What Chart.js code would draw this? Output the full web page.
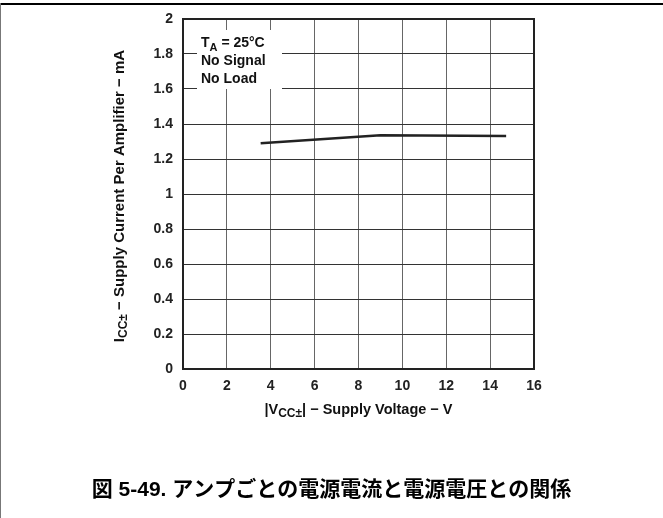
<!DOCTYPE html>
<html>
<head>
<meta charset="utf-8">
<script src="https://cdn.jsdelivr.net/npm/chart.js@4"></script>
<style>
  html, body { margin: 0; padding: 0; background: #fff; }
  #wrap { width: 663px; height: 518px; position: relative; }
</style>
</head>
<body>
<div id="wrap"><canvas id="chart" width="663" height="518"></canvas></div>
<script>
// values
const supplyVoltage = [3.54, 9.0, 14.73];
const supplyCurrent = [1.29, 1.335, 1.332];
const xTicks = ["0", "2", "4", "6", "8", "10", "12", "14", "16"];
const yTicks = ["0", "0.2", "0.4", "0.6", "0.8", "1", "1.2", "1.4", "1.6", "1.8", "2"];
// text between ~ is drawn as a subscript
const notes = ["T~A~ = 25°C", "No Signal", "No Load"];
const xTitle = "|V~CC±~| − Supply Voltage − V";
const yTitle = "I~CC±~ − Supply Current Per Amplifier − mA";
const caption = "図 5-49. アンプごとの電源電流と電源電圧との関係";

const FONT = "'Liberation Sans', Arial, 'Noto Sans CJK JP', sans-serif";

function richText(ctx, text, x, y, size, align) {
  const parts = text.split("~");
  const big = "bold " + size + "px " + FONT;
  const small = "bold " + Math.round(size * 0.82) + "px " + FONT;
  let w = 0;
  parts.forEach((p, i) => {
    ctx.font = i % 2 ? small : big;
    w += ctx.measureText(p).width;
  });
  let cx = align === "center" ? x - w / 2 : x;
  ctx.textAlign = "left";
  parts.forEach((p, i) => {
    ctx.font = i % 2 ? small : big;
    ctx.fillText(p, cx, i % 2 ? y + 4 : y);
    cx += ctx.measureText(p).width;
  });
}

const decor = {
  id: "decor",
  beforeDraw(c) {
    const ctx = c.ctx;
    ctx.save();
    ctx.fillStyle = "#fff";
    ctx.fillRect(0, 0, c.width, c.height);
    // page frame
    ctx.fillStyle = "#000";
    ctx.fillRect(0, 3, c.width, 2);
    ctx.fillStyle = "#777";
    ctx.fillRect(0, 3, 1, c.height);
    ctx.restore();
  },
  afterDatasetsDraw(c) {
    const ctx = c.ctx;
    const a = c.chartArea;
    ctx.save();
    // plot frame
    ctx.strokeStyle = "#222";
    ctx.lineWidth = 2;
    ctx.strokeRect(a.left, a.top, a.right - a.left, a.bottom - a.top);

    // condition box
    ctx.fillStyle = "#fff";
    ctx.fillRect(a.left + 14, a.top + 11, 85, 59);
    ctx.fillStyle = "#111";
    ctx.textBaseline = "alphabetic";
    notes.forEach((n, i) => richText(ctx, n, a.left + 18, a.top + 28 + i * 18, 14, "left"));

    // axis titles
    ctx.textBaseline = "middle";
    richText(ctx, xTitle, (a.left + a.right) / 2, 410, 14.5, "center");
    ctx.save();
    ctx.translate(120, (a.top + a.bottom) / 2 + 2);
    ctx.rotate(-Math.PI / 2);
    richText(ctx, yTitle, 0, 0, 15, "center");
    ctx.restore();

    // caption
    ctx.font = "bold 21px " + FONT;
    ctx.textAlign = "center";
    ctx.fillStyle = "#000";
    ctx.fillText(caption, c.width / 2, 490);
    ctx.restore();
  }
};

new Chart(document.getElementById("chart"), {
  type: "line",
  data: {
    datasets: [{
      data: supplyVoltage.map((v, i) => ({ x: v, y: supplyCurrent[i] })),
      borderColor: "#222",
      borderWidth: 2.5,
      pointRadius: 0,
      tension: 0,
      fill: false
    }]
  },
  options: {
    responsive: false,
    animation: false,
    layout: { padding: { left: 0, top: 19, right: 129, bottom: 119 } },
    plugins: { legend: { display: false }, tooltip: { enabled: false } },
    scales: {
      x: {
        type: "linear",
        min: 0, max: 16,
        afterFit: s => { s.height = 30; },
        ticks: {
          stepSize: 2,
          padding: 9,
          color: "#222",
          font: { family: FONT, size: 14, weight: "bold" },
          callback: (v, i) => xTicks[i]
        },
        grid: { color: "#666", lineWidth: 1, drawTicks: false },
        border: { display: false }
      },
      y: {
        min: 0, max: 2,
        afterFit: s => { s.width = 183; },
        ticks: {
          stepSize: 0.2,
          padding: 10,
          color: "#222",
          font: { family: FONT, size: 14, weight: "bold" },
          callback: (v, i) => yTicks[i]
        },
        grid: { color: "#333", lineWidth: 1, drawTicks: false },
        border: { display: false }
      }
    }
  },
  plugins: [decor]
});
</script>
</body>
</html>
